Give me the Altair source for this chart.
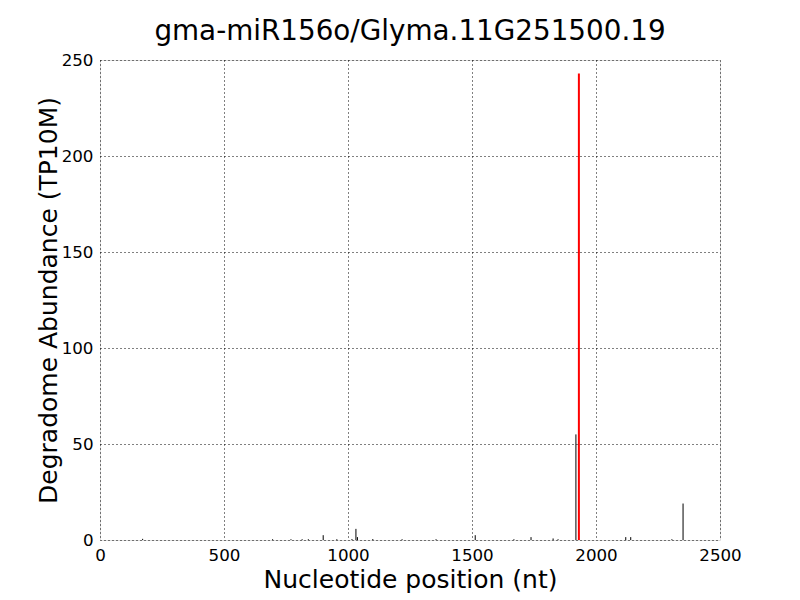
import altair as alt
import pandas as pd

positions = [172, 696, 770, 815, 840, 900, 955, 1016, 1032, 1038, 1100, 1218, 1355, 1513, 1669, 1738, 1827, 1847, 1919, 2120, 2140, 2306, 2351]
abundance = [0.6, 0.4, 0.4, 0.4, 0.4, 2.5, 0.4, 0.5, 5.8, 1.5, 0.5, 0.4, 0.4, 2.5, 0.4, 1.5, 0.8, 0.4, 55, 1.5, 1.5, 0.4, 19]
target_pos = [1931]
target_val = [243]

df = pd.DataFrame({"pos": positions, "val": abundance, "zero": [0] * len(positions)})
dt = pd.DataFrame({"pos": target_pos, "val": target_val, "zero": [0]})

xs = alt.Scale(domain=[0, 2500], nice=False, zero=False)
ys = alt.Scale(domain=[0, 250], nice=False)

common = dict(grid=True, gridDash=[1, 3], gridColor="black", gridOpacity=1,
              ticks=False, labelFont="DejaVu Sans", labelFontSize=16.7, labelColor="black",
              labelFlush=False, format="d",
              titleFont="DejaVu Sans", titleFontSize=25,
              titleFontWeight="normal", titleColor="black", domain=False)

xaxis = alt.Axis(values=[0, 500, 1000, 1500, 2000, 2500], title="Nucleotide position (nt)",
                 labelPadding=7, titlePadding=4, **common)
yaxis = alt.Axis(values=[0, 50, 100, 150, 200, 250], title="Degradome Abundance (TP10M)",
                 labelPadding=7, titlePadding=0, **common)

black = alt.Chart(df).mark_rule(color="black", strokeWidth=1).encode(
    x=alt.X("pos:Q", scale=xs, axis=xaxis),
    y=alt.Y("zero:Q", scale=ys, axis=yaxis),
    y2="val:Q",
)
red = alt.Chart(dt).mark_rule(color="red", strokeWidth=2).encode(
    x=alt.X("pos:Q", scale=xs),
    y=alt.Y("zero:Q", scale=ys),
    y2="val:Q",
)

chart = alt.layer(black, red).properties(
    width=620, height=480,
    title=alt.TitleParams("gma-miR156o/Glyma.11G251500.19", font="DejaVu Sans",
                          fontSize=27.8, fontWeight="normal", color="black",
                          anchor="middle", offset=6),
    autosize=alt.AutoSizeParams(type="none"),
    padding={"left": 92, "top": 52, "right": 72, "bottom": 60},
).configure_view(stroke="black", strokeWidth=1).configure(background="white")

chart.save("out.html", embed_options={"renderer": "svg", "actions": False})
